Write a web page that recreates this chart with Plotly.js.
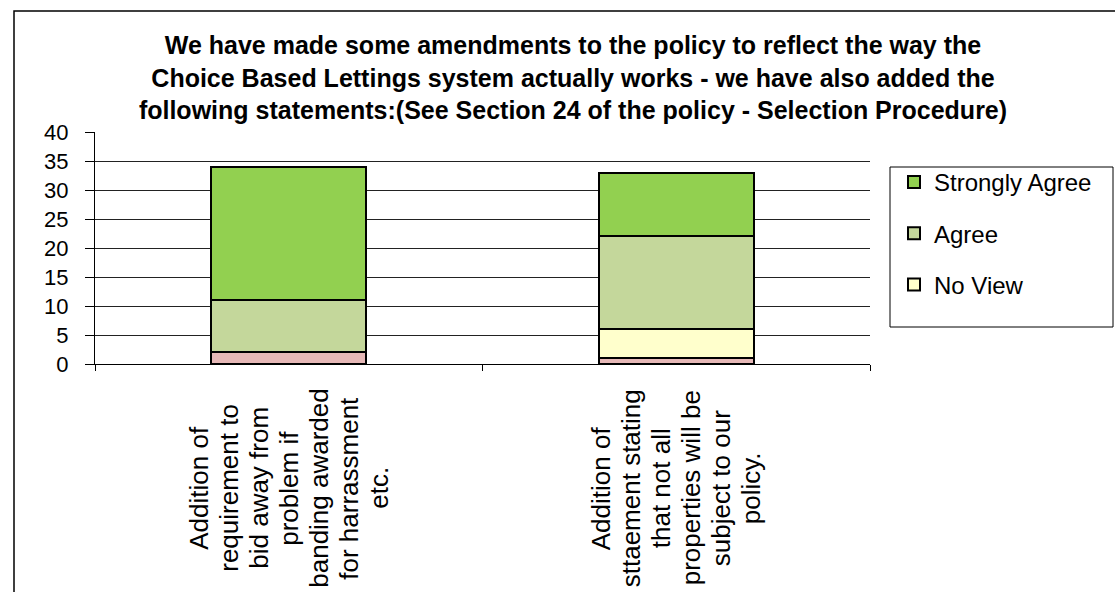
<!DOCTYPE html>
<html>
<head>
<meta charset="utf-8">
<script src="https://cdn.plot.ly/plotly-3.0.1.min.js"></script>
<style>html,body{margin:0;padding:0;background:#fff;}#chart{width:1115px;height:592px;}</style>
</head>
<body>
<div id="chart"></div>
<script>
var categories = [
  "Addition of<br>requirement to<br>bid away from<br>problem if<br>banding awarded<br>for harrassment<br>etc.",
  "Addition of<br>sttaement stating<br>that not all<br>properties will be<br>subject to our<br>policy."
];
var disagree = [2, 1];
var noView = [0, 5];
var agree = [9, 16];
var stronglyAgree = [23, 11];
var yTicks = [0, 5, 10, 15, 20, 25, 30, 35, 40];
var titleText = "We have made some amendments to the policy to reflect the way the<br>Choice Based Lettings system actually works - we have also added the<br>following statements:(See Section 24 of the policy - Selection Procedure)";

var W = 1115, H = 592;
var L = 95, R = 870, T = 132, B = 364;
var pw = R - L, ph = B - T;
function px(x){ return (x - L) / pw; }
function py(y){ return (B - y) / ph; }

var line = {color: '#000', width: 2};
var traces = [
  {name: 'Disagree', x: categories, y: disagree, type: 'bar', marker: {color: '#E6B8B7', line: line}, showlegend: false, legendgroup: 'd', legendrank: 4},
  {name: 'No View', x: categories, y: noView, type: 'bar', marker: {color: '#FFFFCC', line: line}, legendgroup: 'n', legendrank: 3},
  {name: 'Agree', x: categories, y: agree, type: 'bar', marker: {color: '#C4D79B', line: line}, legendgroup: 'a', legendrank: 2},
  {name: 'Strongly Agree', x: categories, y: stronglyAgree, type: 'bar', marker: {color: '#92D050', line: line}, legendgroup: 's', legendrank: 1}
];

// category labels: one rotated annotation per line, centred as a block
var annotations = [];
var lineGap = 30;
categories.forEach(function(c){
  var lines = c.split('<br>');
  var n = lines.length;
  lines.forEach(function(t, j){
    annotations.push({x: c, xref: 'x', y: py(488), yref: 'paper', yanchor: 'middle', xanchor: 'center',
      xshift: (j - (n - 1) / 2) * lineGap,
      text: t, showarrow: false, textangle: -90,
      font: {family: 'Liberation Sans, Arial, sans-serif', size: 26, color: '#000'}});
  });
});

var layout = {
  width: W, height: H,
  margin: {l: L, r: W - R, t: T, b: H - B, pad: 0},
  paper_bgcolor: '#fff', plot_bgcolor: '#fff',
  font: {family: 'Liberation Sans, Arial, sans-serif', color: '#000'},
  title: {text: '<b>' + titleText + '</b>', x: 573 / W, xref: 'container', xanchor: 'center',
    y: 1 - 54 / H, yref: 'container', yanchor: 'middle',
    font: {family: 'Liberation Sans, Arial, sans-serif', size: 25, color: '#000'}},
  barmode: 'stack', bargap: 0.6,
  xaxis: {type: 'category', showticklabels: false, tickson: 'boundaries', ticks: 'outside', ticklen: 6,
    tickcolor: '#000', showline: true, linecolor: '#000', linewidth: 1, showgrid: false, zeroline: false, fixedrange: true},
  yaxis: {range: [0, 40], tickvals: yTicks, ticks: 'outside', ticklen: 9, tickcolor: '#000',
    showline: true, linecolor: '#000', linewidth: 1, showgrid: true, gridcolor: '#222', gridwidth: 1,
    zeroline: false, ticklabelstandoff: 12, tickfont: {size: 22, color: '#000'}},
  legend: {x: px(894), y: py(160), xanchor: 'left', yanchor: 'top', bgcolor: 'rgba(0,0,0,0)',
    borderwidth: 0, traceorder: 'grouped', tracegroupgap: 17,
    font: {size: 24, color: '#000'}},
  shapes: [
    {type: 'rect', xref: 'paper', yref: 'paper', x0: px(890), x1: px(1113), y0: py(327), y1: py(167),
      line: {color: '#000', width: 1}},
    {type: 'rect', xref: 'paper', yref: 'paper', x0: px(14), x1: px(1140), y0: py(620), y1: py(11),
      line: {color: '#000', width: 1.5}}
  ],
  annotations: annotations
};

Plotly.newPlot('chart', traces, layout, {displayModeBar: false, staticPlot: true});
</script>
</body>
</html>
